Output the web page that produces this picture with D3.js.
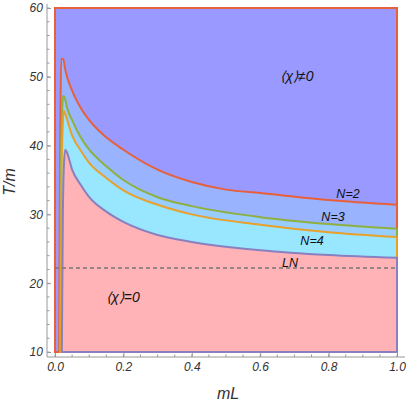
<!DOCTYPE html>
<html>
<head>
<meta charset="utf-8">
<style>
	body { margin: 0; background: #fff; }
	text { font-family: "Liberation Sans", sans-serif; }
</style>
<script src="https://cdn.jsdelivr.net/npm/d3@7"></script>
</head>
<body>
<svg width="409" height="407"></svg>
<script>
	// curve points [mL, T/m]
	var curveN2 = [[0.012,10],[0.014,30],[0.016,45],[0.018,52.6],[0.024,52.6],[0.03,51],[0.05,48],[0.075,45.5],[0.1,43.7],[0.15,41.2],[0.2,39.4],[0.3,36.5],[0.4,34.7],[0.5,33.6],[0.6,33.1],[0.8,32.1],[1,31.4]];
	var curveN3 = [[0.014,10],[0.017,35],[0.02,44],[0.024,47.2],[0.028,47],[0.035,45.5],[0.05,43.7],[0.075,41.2],[0.1,39.4],[0.15,37],[0.2,35],[0.3,32.5],[0.4,31.2],[0.6,29.6],[0.8,28.6],[1,27.9]];
	var curveN4 = [[0.016,10],[0.019,35],[0.022,42],[0.026,45],[0.03,44.6],[0.04,43],[0.05,41.5],[0.075,39.3],[0.1,37.5],[0.15,35.3],[0.2,33.5],[0.3,31.4],[0.4,30],[0.6,28.5],[0.8,27.4],[1,26.7]];
	var curveLN = [[0.02,10],[0.023,30],[0.026,37],[0.03,39.4],[0.035,39],[0.05,36.5],[0.075,34.3],[0.1,32.5],[0.15,30.4],[0.2,28.9],[0.3,27],[0.4,26],[0.6,24.8],[0.8,24.1],[1,23.7]];
	var dashT = 22.2;
	var xTicks = [0, 0.2, 0.4, 0.6, 0.8, 1.0];
	var yTicks = [10, 20, 30, 40, 50, 60];

	var svg = d3.select("svg");
	var x = d3.scaleLinear().domain([0, 1]).range([55, 397]);
	var y = d3.scaleLinear().domain([10, 60]).range([352, 8]);
	var line = d3.line().x(function(d) { return x(d[0]); }).y(function(d) { return y(d[1]); });
	var smooth = d3.line().x(function(d) { return x(d[0]); }).y(function(d) { return y(d[1]); }).curve(d3.curveMonotoneX);

	// top region: whole box
	svg.append("path")
		.attr("d", line([[0,10],[0,60],[1,60],[1,10]]) + "Z")
		.attr("fill", "#9999ff").attr("stroke", "#e8603a").attr("stroke-width", 2);

	var layers = [
		{pts: curveN2, fill: "#99b3ff", stroke: "#e8603a"},
		{pts: curveN3, fill: "#99ccff", stroke: "#8fb03e"},
		{pts: curveN4, fill: "#99e6ff", stroke: "#e8a12a"},
		{pts: curveLN, fill: "#ffb3b6", stroke: "#8a7fbf"}
	];
	layers.forEach(function(l) {
		var last = l.pts[l.pts.length - 1];
		svg.append("path")
			.attr("d", smooth(l.pts) + "L" + x(1) + "," + y(10) + "Z")
			.attr("fill", l.fill).attr("stroke", l.stroke).attr("stroke-width", 2)
			.attr("stroke-linejoin", "round");
	});

	svg.append("line")
		.attr("x1", x(0)).attr("x2", x(1)).attr("y1", y(dashT)).attr("y2", y(dashT))
		.attr("stroke", "#777").attr("stroke-width", 1.6).attr("stroke-dasharray", "4,3");

	// axes (frame left + bottom, ticks inward)
	var gx = svg.append("g").attr("transform", "translate(0,357)")
		.call(d3.axisBottom(x).tickValues(xTicks).tickSizeInner(-4).tickSizeOuter(0).tickFormat(d3.format(".1f")));
	var gy = svg.append("g").attr("transform", "translate(47,0)")
		.call(d3.axisLeft(y).tickValues(yTicks).tickSizeInner(-4).tickSizeOuter(0));
	var minorX = d3.range(0, 1.001, 0.05);
	var minorY = d3.range(10, 60.01, 2);
	gx.selectAll(".mt").data(minorX).enter().append("line")
		.attr("x1", x).attr("x2", x).attr("y1", 0).attr("y2", -2.5).attr("stroke", "#999");
	gy.selectAll(".mt").data(minorY).enter().append("line")
		.attr("y1", y).attr("y2", y).attr("x1", 0).attr("x2", 2.5).attr("stroke", "#999");
	[gx, gy].forEach(function(g) {
		g.select(".domain").attr("stroke", "#999");
		g.selectAll(".tick line").attr("stroke", "#999");
		g.selectAll(".tick text").attr("font-size", 12).attr("font-style", "italic").attr("fill", "#333");
	});
	gx.select(".domain").attr("d", "M47,0H405");
	gy.select(".domain").attr("d", "M0,4V357");
	gx.selectAll(".tick text").attr("dy", "0.9em");
	gy.selectAll(".tick text").attr("dx", "-0.1em");

	svg.append("text").attr("x", 228).attr("y", 399).attr("text-anchor", "middle")
		.attr("font-size", 16).attr("font-style", "italic").attr("fill", "#333").text("mL");
	svg.append("text").attr("transform", "translate(15,182) rotate(-90)").attr("text-anchor", "middle")
		.attr("font-size", 16).attr("font-style", "italic").attr("fill", "#333").text("T/m");

	var labels = [
		{t: "N=2", x: 348, y: 198},
		{t: "N=3", x: 333, y: 221},
		{t: "N=4", x: 312, y: 245},
		{t: "LN", x: 290, y: 267}
	];
	labels.forEach(function(l) {
		svg.append("text").attr("x", l.x).attr("y", l.y).attr("text-anchor", "middle")
			.attr("font-size", 12.5).attr("font-style", "italic").attr("fill", "#111").text(l.t);
	});
	svg.append("text").attr("x", 297).attr("y", 81).attr("text-anchor", "middle")
		.attr("font-family", "DejaVu Sans").attr("font-size", 14).attr("font-style", "italic").attr("fill", "#111").text("⟨χ⟩≠0");
	svg.append("text").attr("x", 123).attr("y", 302).attr("text-anchor", "middle")
		.attr("font-family", "DejaVu Sans").attr("font-size", 14).attr("font-style", "italic").attr("fill", "#111").text("⟨χ⟩=0");
</script>
</body>
</html>
